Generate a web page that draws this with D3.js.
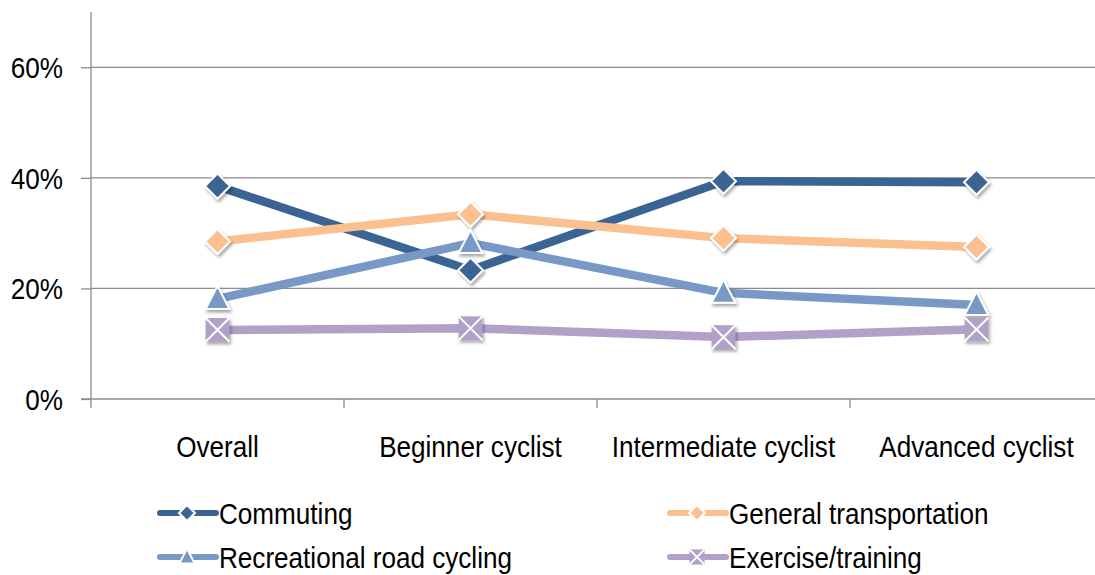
<!DOCTYPE html>
<html>
<head>
<meta charset="utf-8">
<script src="https://cdn.jsdelivr.net/npm/d3@7"></script>
<style>
  body { margin: 0; background: #fff; }
  text { font-family: "Liberation Sans", Arial, sans-serif; fill: #000; }
</style>
</head>
<body>
<script>
// Categories and series values (fractions)
const categories = ["Overall", "Beginner cyclist", "Intermediate cyclist", "Advanced cyclist"];
const seriesNames = ["Commuting", "General transportation", "Recreational road cycling", "Exercise/training"];
const commuting = [0.385, 0.233, 0.394, 0.392];
const generalTransport = [0.285, 0.334, 0.291, 0.275];
const recreational = [0.181, 0.282, 0.192, 0.170];
const exercise = [0.125, 0.128, 0.112, 0.126];
const yTicks = [0, 0.2, 0.4, 0.6];

const colors = ["#3A6494", "#FAC08F", "#7899C6", "#B1A0C7"];
const symbols = ["diamond", "diamond", "triangle", "xsquare"];
const allValues = [commuting, generalTransport, recreational, exercise];

const width = 1095, height = 575;
const margin = { left: 91, top: 12 };
const plotBottom = 399;
const bandW = 253;
const fontSize = 30, squeeze = 0.87; // Excel text looks condensed

const svg = d3.select("body").append("svg")
    .attr("width", width)
    .attr("height", height);

// drop shadow for markers
const defs = svg.append("defs");
const f = defs.append("filter").attr("id", "shadow")
    .attr("x", "-50%").attr("y", "-50%").attr("width", "200%").attr("height", "200%");
f.append("feDropShadow").attr("dx", 1.5).attr("dy", 2.5).attr("stdDeviation", 1.5)
    .attr("flood-color", "#000").attr("flood-opacity", 0.35);

const x = d3.scaleBand()
    .domain(categories)
    .range([margin.left, margin.left + bandW * categories.length]);

const y = d3.scaleLinear()
    .domain([0, 0.7])
    .range([plotBottom, margin.top]);

function label(g, tx, ty, txt, anchor) {
    return g.append("text")
        .attr("transform", `translate(${tx},${ty}) scale(${squeeze},1)`)
        .attr("text-anchor", anchor)
        .style("font-size", fontSize + "px")
        .text(txt);
}

// gridlines
svg.append("g")
    .selectAll("line")
    .data(yTicks.slice(1))
    .enter().append("line")
    .attr("x1", margin.left).attr("x2", width)
    .attr("y1", d => y(d)).attr("y2", d => y(d))
    .attr("stroke", "#8c8c8c").attr("stroke-width", 1.3);

// y axis
const yAxis = svg.append("g")
    .attr("transform", `translate(${margin.left},0)`)
    .call(d3.axisLeft(y).tickValues(yTicks).tickFormat("").tickSize(10));
yAxis.select(".domain").attr("stroke", "#8c8c8c").attr("stroke-width", 1.3)
    .attr("d", `M0,${y(0.7)}V${plotBottom + 9}`);
yAxis.selectAll(".tick line").attr("stroke", "#8c8c8c").attr("stroke-width", 1.3);
const fmt = d3.format(".0%");
yTicks.forEach(t => label(svg, 63, y(t) + 11, fmt(t), "end"));

// x axis
const xAxis = svg.append("g")
    .attr("transform", `translate(0,${plotBottom})`)
    .call(d3.axisBottom(x).tickSize(0).tickFormat(""));
xAxis.select(".domain").attr("stroke", "#8c8c8c").attr("stroke-width", 1.3)
    .attr("d", `M${margin.left - 10},0H${width}`);
// category separators
xAxis.append("g").selectAll("line")
    .data(categories.slice(1))
    .enter().append("line")
    .attr("x1", d => x(d)).attr("x2", d => x(d))
    .attr("y1", 0).attr("y2", 9)
    .attr("stroke", "#8c8c8c").attr("stroke-width", 1.3);
categories.forEach(c => label(svg, x(c) + x.bandwidth() / 2, 457, c, "middle"));

const line = d3.line()
    .x((d, i) => x(categories[i]) + x.bandwidth() / 2)
    .y(d => y(d));

function drawMarker(g, type, color, size) {
    const s = size;
    if (type === "diamond") {
        g.append("path")
            .attr("d", `M0,${-s}L${s},0L0,${s}L${-s},0Z`)
            .attr("fill", color).attr("stroke", "#fff").attr("stroke-width", 2);
    } else if (type === "triangle") {
        g.append("path")
            .attr("d", `M0,${-s * 1.05}L${s * 0.95},${s * 0.8}L${-s * 0.95},${s * 0.8}Z`)
            .attr("fill", color).attr("stroke", "#fff").attr("stroke-width", 2);
    } else {
        const h = s * 0.95;
        g.append("rect")
            .attr("x", -h).attr("y", -h).attr("width", 2 * h).attr("height", 2 * h)
            .attr("fill", color);
        g.append("path")
            .attr("d", `M${-h},${-h}L${h},${h}M${h},${-h}L${-h},${h}`)
            .attr("stroke", "#fff").attr("stroke-width", 2);
    }
}

// series lines
allValues.forEach((vals, k) => {
    svg.append("path")
        .datum(vals)
        .attr("d", line)
        .attr("fill", "none")
        .attr("stroke", colors[k])
        .attr("stroke-width", 8.5)
        .attr("stroke-linejoin", "round");
});
// markers on top
allValues.forEach((vals, k) => {
    svg.append("g").selectAll("g")
        .data(vals)
        .enter().append("g")
        .attr("transform", (d, i) => `translate(${x(categories[i]) + x.bandwidth() / 2},${y(d)})`)
        .attr("filter", "url(#shadow)")
        .each(function() { drawMarker(d3.select(this), symbols[k], colors[k], 12.5); });
});

// legend
const legendPos = [[160, 513], [670, 513], [160, 557], [670, 557]];
seriesNames.forEach((name, k) => {
    const g = svg.append("g").attr("transform", `translate(${legendPos[k][0]},${legendPos[k][1]})`);
    g.append("line").attr("x1", 0).attr("x2", 56).attr("y1", 0).attr("y2", 0)
        .attr("stroke", colors[k]).attr("stroke-width", 6).attr("stroke-linecap", "round");
    const m = g.append("g").attr("transform", "translate(27,0)");
    drawMarker(m, symbols[k], colors[k], 8);
    label(g, 59, 11, name, "start");
});
</script>
</body>
</html>
